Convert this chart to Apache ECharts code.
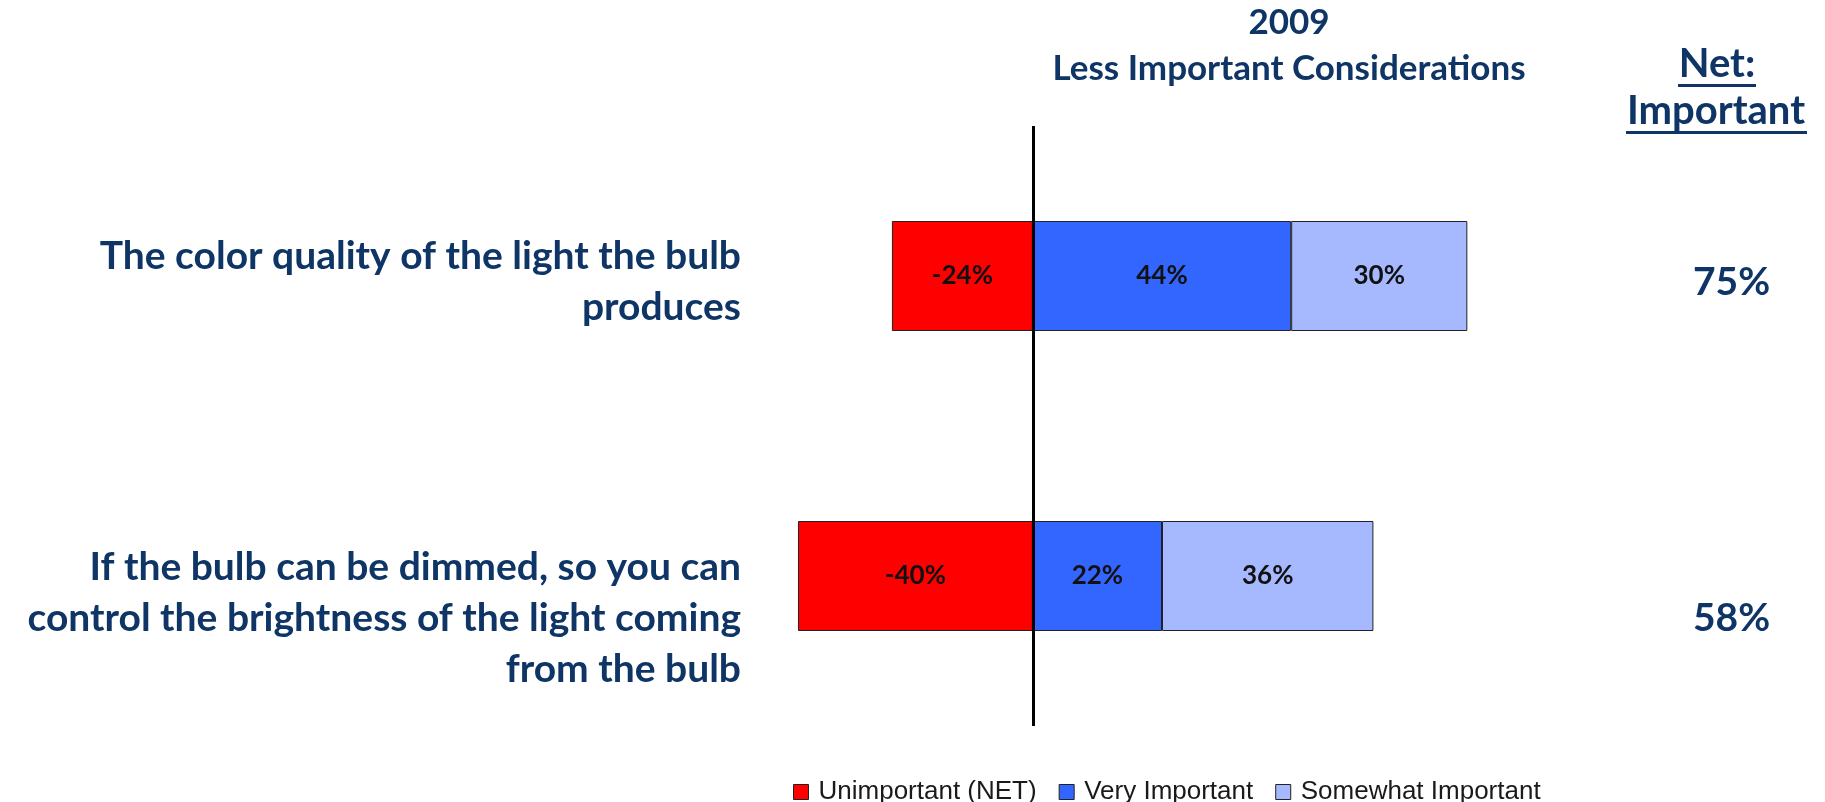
<!DOCTYPE html>
<html>
<head>
<meta charset="utf-8">
<script src="https://cdn.jsdelivr.net/npm/echarts@6/dist/echarts.min.js"></script>
<style>
html,body{margin:0;padding:0;background:#fff;}
#chart{width:1825px;height:802px;}
</style>
</head>
<body>
<div id="chart"></div>
<script>
// ---- data ----
const categories = [
  'The color quality of the light the bulb\nproduces',
  'If the bulb can be dimmed, so you can\ncontrol the brightness of the light coming\nfrom the bulb'
];
const seriesNames = ['Unimportant (NET)', 'Very Important', 'Somewhat Important'];
const unimportant = [-24, -40];
const veryImportant = [44, 22];
const somewhatImportant = [30, 36];
const netImportant = [75, 58];
const titleLines = ['2009', 'Less Important Considerations'];
const netHeader = ['Net:', 'Important'];

// ---- styles ----
const navy = '#0E3565';
const colors = ['#FF0000', '#3366FF', '#A6B9FF'];
const narrowFont = '"Liberation Sans Narrow", "Liberation Sans", Arial, sans-serif';
const boldFont = 'Lato, "Open Sans", sans-serif';
// vertical shift (px) of each category's text block relative to its bar
const labelShift = [6, 42];

const chart = echarts.init(document.getElementById('chart'));

function spacerRich(prefix) {
  const r = {};
  labelShift.forEach((s, i) => {
    r[prefix + i] = { fontSize: 1, lineHeight: Math.max(1, 2 * s) };
  });
  return r;
}

function barSeries(name, data, color, withMark) {
  const s = {
    name: name,
    type: 'bar',
    stack: 'total',
    data: data,
    barWidth: 110,
    itemStyle: { color: color, borderColor: '#222', borderWidth: 1 },
    label: {
      show: true,
      position: 'inside',
      formatter: p => p.value + '%',
      color: '#111',
      fontSize: 26,
      fontWeight: 'bold',
      fontFamily: boldFont
    },
    emphasis: { disabled: true }
  };
  if (withMark) {
    s.markLine = {
      silent: true,
      symbol: 'none',
      label: { show: false },
      lineStyle: { color: '#000', width: 3, type: 'solid' },
      data: [{ xAxis: 0 }]
    };
  }
  return s;
}

const catRich = Object.assign(spacerRich('sp'), {
  t: { color: navy, fontSize: 39, fontWeight: 'bold', fontFamily: boldFont, lineHeight: 51, align: 'right' }
});
const netRich = Object.assign(spacerRich('sp'), {
  v: { color: navy, fontSize: 39, fontWeight: 'bold', fontFamily: boldFont, lineHeight: 46, align: 'left' }
});

const option = {
  backgroundColor: '#fff',
  animation: false,
  title: {
    text: titleLines.join('\n'),
    left: 1289,
    textAlign: 'center',
    top: 0,
    padding: 0,
    textStyle: { color: navy, fontSize: 35, fontWeight: 'bold', fontFamily: boldFont, lineHeight: 46 }
  },
  graphic: [
    { type: 'text', x: 1717, y: 64, style: { text: netHeader[0], fill: navy, font: 'bold 40px ' + boldFont, align: 'center', verticalAlign: 'middle' } },
    { type: 'rect', shape: { x: 1678, y: 84, width: 78, height: 3 }, style: { fill: navy } },
    { type: 'text', x: 1716, y: 111, style: { text: netHeader[1], fill: navy, font: 'bold 40px ' + boldFont, align: 'center', verticalAlign: 'middle' } },
    { type: 'rect', shape: { x: 1626, y: 131, width: 181, height: 3 }, style: { fill: navy } }
  ],
  legend: {
    data: seriesNames,
    left: 788,
    top: 774,
    itemWidth: 15,
    itemHeight: 15,
    itemGap: 22,
    icon: 'rect',
    itemStyle: { borderColor: '#222', borderWidth: 1 },
    textStyle: { color: '#1a1a1a', fontSize: 26, fontFamily: narrowFont, padding: [0, 0, 0, 5] }
  },
  grid: { left: 751, right: 205, top: 126, height: 600 },
  xAxis: {
    type: 'value',
    min: -48,
    max: 100,
    show: false
  },
  yAxis: [
    {
      type: 'category',
      inverse: true,
      data: categories,
      axisLine: { show: false },
      axisTick: { show: false },
      axisLabel: {
        margin: 10,
        align: 'right',
        formatter: (v, i) => '{sp' + i + '| }\n' + v.split('\n').map(l => '{t|' + l + '}').join('\n'),
        rich: catRich
      }
    },
    {
      type: 'category',
      inverse: true,
      position: 'right',
      data: netImportant.map(v => v + '%'),
      axisLine: { show: false },
      axisTick: { show: false },
      axisLabel: {
        margin: 73,
        align: 'left',
        formatter: (v, i) => '{sp' + i + '| }\n{v|' + v + '}',
        rich: netRich
      }
    }
  ],
  series: [
    barSeries(seriesNames[0], unimportant, colors[0], true),
    barSeries(seriesNames[1], veryImportant, colors[1], false),
    barSeries(seriesNames[2], somewhatImportant, colors[2], false)
  ]
};
chart.setOption(option);
</script>
</body>
</html>
